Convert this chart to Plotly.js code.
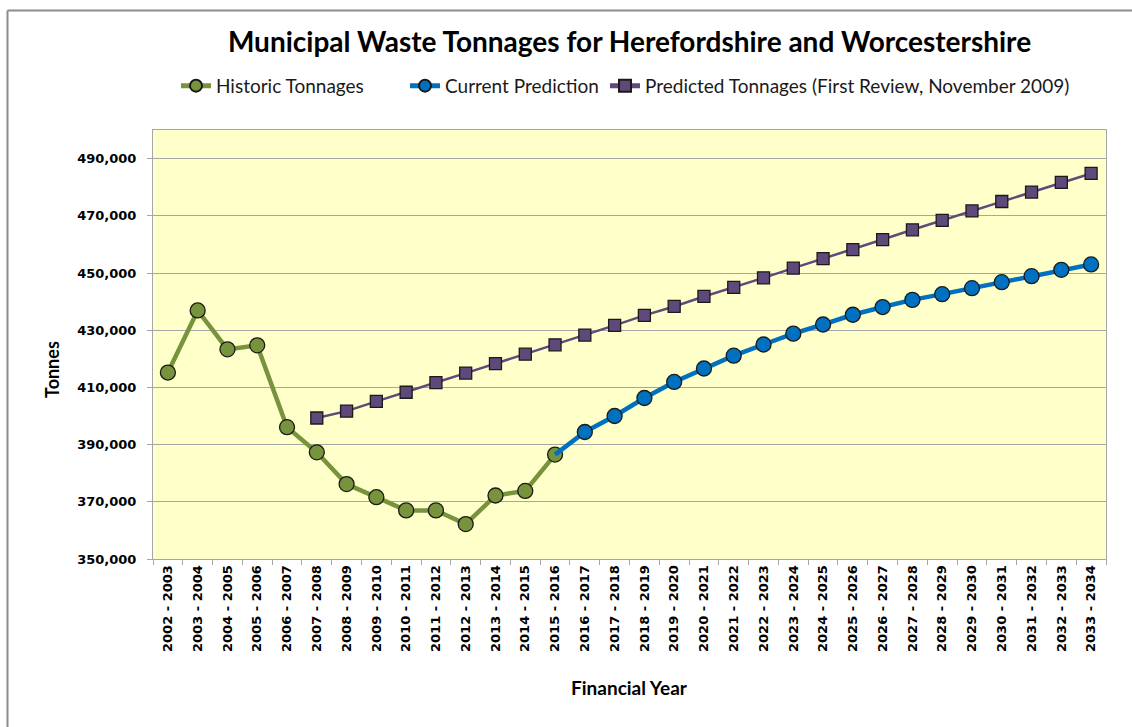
<!DOCTYPE html>
<html>
<head>
<meta charset="utf-8">
<script src="https://cdn.plot.ly/plotly-3.0.1.min.js"></script>
<style>html,body{margin:0;padding:0;background:#fff;}#chart{width:1132px;height:727px;}</style>
</head>
<body>
<div id="chart"></div>
<script>
const years = ["2002 - 2003","2003 - 2004","2004 - 2005","2005 - 2006","2006 - 2007","2007 - 2008","2008 - 2009","2009 - 2010","2010 - 2011","2011 - 2012","2012 - 2013","2013 - 2014","2014 - 2015","2015 - 2016","2016 - 2017","2017 - 2018","2018 - 2019","2019 - 2020","2020 - 2021","2021 - 2022","2022 - 2023","2023 - 2024","2024 - 2025","2025 - 2026","2026 - 2027","2027 - 2028","2028 - 2029","2029 - 2030","2030 - 2031","2031 - 2032","2032 - 2033","2033 - 2034"];

const historicYears = years.slice(0, 14);
const historicTonnes = [415200, 436900, 423300, 424700, 396100, 387300, 376200, 371600, 367000, 367000, 362200, 372200, 373800, 386500];

const currentYears = years.slice(13);
const currentTonnes = [386500, 394400, 400000, 406300, 411900, 416600, 421100, 425000, 428800, 432000, 435400, 438100, 440600, 442600, 444700, 446800, 448900, 451100, 453000];

const predictedYears = years.slice(5);
const predictedTonnes = [399300, 401700, 405100, 408300, 411700, 415000, 418300, 421600, 424900, 428300, 431700, 435200, 438300, 441800, 445000, 448300, 451700, 455000, 458200, 461700, 465100, 468400, 471700, 475000, 478300, 481700, 484800];

const yTicks = [350000, 370000, 390000, 410000, 430000, 450000, 470000, 490000];

const legendFont = {family: "Lato, 'Open Sans', sans-serif", size: 19, color: "#1a1a1a"};

const traces = [
  {
    name: "Historic Tonnages", x: historicYears, y: historicTonnes, type: "scatter", mode: "lines+markers",
    legend: "legend",
    line: {color: "#77933C", width: 4.5},
    marker: {symbol: "circle", size: 15, opacity: 1, color: "#77933C", line: {color: "#1a1a1a", width: 1.3}}
  },
  {
    name: "Current Prediction", x: currentYears, y: currentTonnes, type: "scatter", mode: "lines+markers",
    legend: "legend2",
    line: {color: "#0070C0", width: 4.5},
    marker: {symbol: "circle", size: currentTonnes.map((v, i) => i === 0 ? 0 : 15), opacity: 1, color: "#0070C0", line: {color: "#1a1a1a", width: 1.3}}
  },
  {
    name: "Predicted Tonnages (First Review, November 2009)", x: predictedYears, y: predictedTonnes, type: "scatter", mode: "lines+markers",
    legend: "legend3",
    line: {color: "#604A7B", width: 2.5},
    marker: {symbol: "square", size: 12, opacity: 1, color: "#5F497A", line: {color: "#1a1a1a", width: 1.3}}
  }
];

function legendAt(px) {
  return {orientation: "h", x: (px - 153) / 953, xanchor: "left", y: 1.103, yanchor: "middle",
          font: legendFont, bgcolor: "rgba(0,0,0,0)", itemsizing: "constant"};
}

const layout = {
  width: 1132, height: 727,
  margin: {l: 153, r: 26, t: 130, b: 168},
  paper_bgcolor: "#ffffff",
  plot_bgcolor: "#FFFFC9",
  showlegend: true,
  title: {
    text: "<b>Municipal Waste Tonnages for Herefordshire and Worcestershire</b>",
    font: {family: "Lato, 'Open Sans', sans-serif", size: 28, color: "#000000"},
    x: 0.5, xref: "paper", xanchor: "center",
    y: 1 - 42/727, yref: "container", yanchor: "middle"
  },
  legend: legendAt(176),
  legend2: legendAt(405),
  legend3: legendAt(605),
  xaxis: {
    type: "category", categoryorder: "array", categoryarray: years,
    range: [-0.5, 31.5],
    tickvals: years,
    ticktext: years.map(t => "<b>" + t + "</b>"),
    tickangle: -90,
    tickfont: {family: "DejaVu Sans", size: 13, color: "#000000"},
    ticks: "outside", ticklen: 5, tickcolor: "#A6A6A6", tickson: "boundaries",
    showgrid: false, showline: true, linecolor: "#A6A6A6", linewidth: 1, mirror: true,
    zeroline: false
  },
  yaxis: {
    range: [350000, 500000],
    tickvals: yTicks,
    ticktext: yTicks.map(v => "<b>" + v.toLocaleString("en-GB") + "</b>"),
    tickfont: {family: "DejaVu Sans", size: 13, color: "#000000"},
    ticks: "outside", ticklen: 5, tickcolor: "#A6A6A6", ticklabelstandoff: 8,
    showgrid: true, gridcolor: "#A6A6A6", gridwidth: 1,
    showline: true, linecolor: "#A6A6A6", linewidth: 1, mirror: true,
    zeroline: false
  },
  annotations: [
    {text: "<b>Tonnes</b>", xref: "paper", yref: "paper", x: (52 - 153) / 953, y: (559 - 370) / 429,
     xanchor: "center", yanchor: "middle", textangle: -90, showarrow: false,
     font: {family: "Lato, 'Open Sans', sans-serif", size: 18, color: "#000000"}},
    {text: "<b>Financial Year</b>", xref: "paper", yref: "paper", x: 0.5, y: (559 - 687) / 429,
     xanchor: "center", yanchor: "middle", showarrow: false,
     font: {family: "Lato, 'Open Sans', sans-serif", size: 19, color: "#000000"}}
  ],
  shapes: [
    {type: "line", xref: "paper", yref: "paper", x0: (7.5-153)/953, x1: 1.1, y0: (559-10.5)/429, y1: (559-10.5)/429, line: {color: "#8c8c8c", width: 2}},
    {type: "line", xref: "paper", yref: "paper", x0: (7.5-153)/953, x1: (7.5-153)/953, y0: -0.5, y1: (559-10.5)/429, line: {color: "#8c8c8c", width: 2}}
  ]
};

Plotly.newPlot("chart", traces, layout, {displayModeBar: false, responsive: false});
</script>
</body>
</html>
